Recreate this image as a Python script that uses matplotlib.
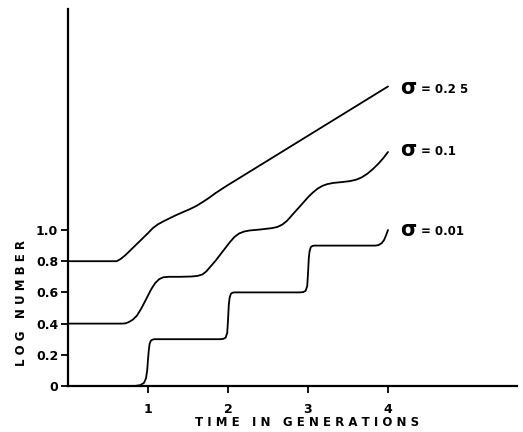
import matplotlib
matplotlib.use("Agg")
import matplotlib.pyplot as plt

# ---- data ----
x_ticks = [1, 2, 3, 4]
x_tick_labels = ["1", "2", "3", "4"]
y_ticks = [0, 0.2, 0.4, 0.6, 0.8, 1.0]
y_tick_labels = ["0", "0.2", "0.4", "0.6", "0.8", "1.0"]

# sigma = 0.01 (step-like)
s001_x = [0.0, 0.83, 0.9, 0.95, 0.975, 0.99, 1.0, 1.01, 1.02, 1.035, 1.055, 1.08, 1.12,
          1.9, 1.94, 1.97, 1.99, 2.0, 2.01, 2.02, 2.035, 2.055, 2.08, 2.12,
          2.9, 2.94, 2.97, 2.99, 3.0, 3.01, 3.02, 3.035, 3.055, 3.08, 3.12,
          3.84, 3.88, 3.92, 3.95, 3.975, 4.0]
s001_y = [0.0, 0.0, 0.005, 0.02, 0.05, 0.1, 0.17, 0.23, 0.27, 0.29, 0.297, 0.3, 0.3,
          0.3, 0.302, 0.31, 0.34, 0.42, 0.52, 0.565, 0.59, 0.598, 0.6, 0.6,
          0.6, 0.602, 0.61, 0.64, 0.72, 0.82, 0.865, 0.89, 0.898, 0.9, 0.9,
          0.9, 0.903, 0.915, 0.935, 0.965, 1.0]

# sigma = 0.1
s01_x = [0.0, 0.68, 0.72, 0.76, 0.81, 0.86, 0.92, 0.98, 1.04, 1.09, 1.14, 1.19, 1.26,
         1.4, 1.55, 1.62, 1.68, 1.73, 1.78, 1.84, 1.9, 1.96, 2.02, 2.08, 2.14, 2.2,
         2.27, 2.4, 2.55, 2.62, 2.68, 2.74, 2.8, 2.87, 2.94, 3.0, 3.06, 3.12, 3.18,
         3.24, 3.32, 3.42, 3.52, 3.6, 3.67, 3.74, 3.81, 3.88, 3.94, 4.0]
s01_y = [0.4, 0.4, 0.402, 0.41, 0.425, 0.45, 0.5, 0.56, 0.62, 0.66, 0.685, 0.697, 0.7,
         0.7, 0.702, 0.706, 0.715, 0.735, 0.765, 0.8, 0.84, 0.88, 0.92, 0.955, 0.978, 0.99,
         0.997, 1.003, 1.012, 1.02, 1.035, 1.06, 1.095, 1.135, 1.175, 1.21, 1.24, 1.265, 1.283,
         1.294, 1.302, 1.307, 1.313, 1.322, 1.337, 1.36, 1.39, 1.425, 1.46, 1.5]

# sigma = 0.25
s025_x = [0.0, 0.61, 0.66, 0.72, 0.79, 0.86, 0.93, 1.0, 1.06, 1.12, 1.19, 1.27,
          1.35, 1.43, 1.52, 1.6, 1.68, 1.76, 1.84, 1.92, 1.98, 4.0]
s025_y = [0.8, 0.8, 0.815, 0.84, 0.875, 0.91, 0.945, 0.98, 1.012, 1.035, 1.055, 1.075,
          1.095, 1.113, 1.133, 1.153, 1.178, 1.205, 1.235, 1.262, 1.282, 1.92]

labels_sigma = ["= 0.2 5", "= 0.1", "= 0.01"]
label_y = [1.91, 1.51, 1.0]

W, H = 523, 432
fig = plt.figure(figsize=(W / 100, H / 100), dpi=100)
x0, x1 = 68, 517
y0, y1 = 386, 9
ax = fig.add_axes([x0 / W, (H - y0) / H, (x1 - x0) / W, (y0 - y1) / H])
ax.set_xlim(0, (x1 - x0) / 80)
ax.set_ylim(0, (y0 - y1) / 156)

for xs, ys in [(s001_x, s001_y), (s01_x, s01_y), (s025_x, s025_y)]:
    ax.plot(xs, ys, color="black", lw=1.3, solid_joinstyle="round",
            solid_capstyle="round", clip_on=False)

for sp in ["top", "right"]:
    ax.spines[sp].set_visible(False)
for sp in ["left", "bottom"]:
    ax.spines[sp].set_linewidth(1.6)

ax.set_xticks(x_ticks)
ax.set_xticklabels(x_tick_labels, fontsize=9, fontweight="bold")
ax.set_yticks(y_ticks)
ax.set_yticklabels(y_tick_labels, fontsize=9, fontweight="bold")
ax.tick_params(axis="x", direction="out", length=5, width=1.3, pad=7)
ax.tick_params(axis="y", direction="out", length=5, width=1.3, pad=2)

for lab, ly in zip(labels_sigma, label_y):
    ax.text(4.25, ly, "σ", fontsize=15, fontweight="bold", ha="center", va="center")
    ax.text(4.41, ly - 0.01, lab, fontsize=8.5, fontweight="bold", ha="left", va="center")

fig.text(307 / W, 1 - 423 / H, "T I M E   I N   G E N E R A T I O N S",
         fontsize=8.5, fontweight="bold", ha="center", va="center")
fig.text(22 / W, 1 - 303 / H, "L O G   N U M B E R",
         fontsize=8.5, fontweight="bold", ha="center", va="center", rotation=90)

fig.savefig("out.png", dpi=100)
